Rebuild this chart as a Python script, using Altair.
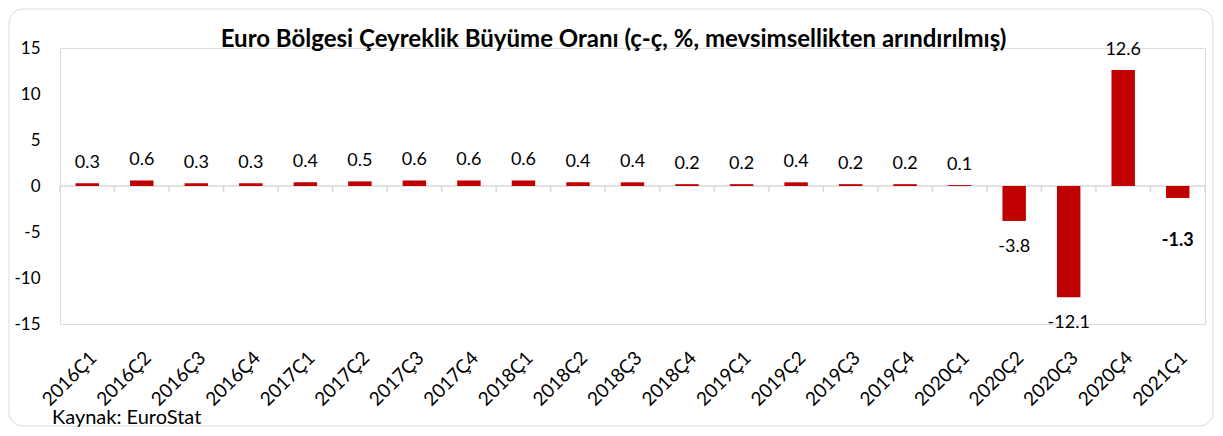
import altair as alt
import pandas as pd

quarters = ["2016Ç1", "2016Ç2", "2016Ç3", "2016Ç4", "2017Ç1", "2017Ç2", "2017Ç3",
            "2017Ç4", "2018Ç1", "2018Ç2", "2018Ç3", "2018Ç4", "2019Ç1", "2019Ç2",
            "2019Ç3", "2019Ç4", "2020Ç1", "2020Ç2", "2020Ç3", "2020Ç4", "2021Ç1"]
growth = [0.3, 0.6, 0.3, 0.3, 0.4, 0.5, 0.6, 0.6, 0.6, 0.4, 0.4, 0.2, 0.2, 0.4,
          0.2, 0.2, 0.1, -3.8, -12.1, 12.6, -1.3]
y_ticks = [-15, -10, -5, 0, 5, 10, 15]
title_text = "Euro Bölgesi Çeyreklik Büyüme Oranı (ç-ç, %, mevsimsellikten arındırılmış)"
source_text = "Kaynak: EuroStat"

FONT = "Lato"
W, H = 1145, 276
BAR = "#C00000"
AXIS_GREY = "#d9d9d9"

df = pd.DataFrame({"q": quarters, "v": growth})
df["label"] = [f"{v:.1f}" for v in growth]
df["last"] = [i == len(quarters) - 1 for i in range(len(quarters))]
df["z"] = 0

xscale = alt.Scale(domain=quarters, paddingInner=0.57, paddingOuter=0.285)
edge_scale = alt.Scale(domain=quarters, paddingInner=0, paddingOuter=0)
yscale = alt.Scale(domain=[-15, 15], nice=False, zero=False)

yaxis = alt.Axis(values=y_ticks, title=None, domain=False, ticks=False, grid=False,
                 labelPadding=20, labelFontSize=17, labelFont=FONT, labelColor="black",
                 labelExpr="'' + datum.value")

base = alt.Chart(df)

zero_line = base.transform_filter("datum.last").mark_rule(
    color=AXIS_GREY, strokeWidth=1.5
).encode(y=alt.Y("z:Q", scale=yscale, axis=yaxis))

edge_ticks = base.mark_rule(color=AXIS_GREY, strokeWidth=1.5, y2Offset=6).encode(
    x=alt.X("q:N", scale=edge_scale, bandPosition=0, axis=None),
    y=alt.Y("z:Q", scale=yscale, axis=yaxis),
    y2="z:Q",
)

end_tick = base.transform_filter("datum.last").mark_rule(
    color=AXIS_GREY, strokeWidth=1.5, y2Offset=6
).encode(
    x=alt.X("q:N", scale=edge_scale, bandPosition=1, axis=None),
    y=alt.Y("z:Q", scale=yscale, axis=yaxis),
    y2="z:Q",
)

bars = base.mark_bar(color=BAR).encode(
    x=alt.X("q:N", scale=xscale,
            axis=alt.Axis(title=None, labelAngle=-45, domain=False, ticks=False, grid=False,
                          labelPadding=24, labelFontSize=19, labelFont=FONT,
                          labelColor="black", orient="bottom")),
    y=alt.Y("v:Q", scale=yscale, axis=yaxis),
)

pos_labels = base.transform_filter("datum.v >= 0").mark_text(
    baseline="alphabetic", dy=-15, fontSize=18, font=FONT, color="black"
).encode(
    x=alt.X("q:N", scale=xscale, axis=None),
    y=alt.Y("v:Q", scale=yscale, axis=yaxis),
    text="label:N",
)

neg_labels = base.transform_filter("datum.v < 0 && !datum.last").mark_text(
    baseline="alphabetic", dy=31, fontSize=18, font=FONT, color="black"
).encode(
    x=alt.X("q:N", scale=xscale, axis=None),
    y=alt.Y("v:Q", scale=yscale, axis=yaxis),
    text="label:N",
)

last_label = base.transform_filter("datum.last").mark_text(
    baseline="alphabetic", dy=48, fontSize=18, font=FONT, fontWeight="bold", color="black"
).encode(
    x=alt.X("q:N", scale=xscale, axis=None),
    y=alt.Y("v:Q", scale=yscale, axis=yaxis),
    text="label:N",
)

title = alt.Chart(pd.DataFrame({"t": [title_text]})).mark_text(
    align="center", baseline="alphabetic", fontSize=24, font=FONT, fontWeight="bold",
    color="black"
).encode(x=alt.value(W / 2 - 19), y=alt.value(-1), text="t:N")

note = alt.Chart(pd.DataFrame({"t": [source_text]})).mark_text(
    align="left", baseline="middle", fontSize=20, font=FONT, color="black"
).encode(x=alt.value(-8), y=alt.value(370), text="t:N")

border = alt.Chart(pd.DataFrame({"k": [0]})).mark_rect(
    fillOpacity=0, stroke=AXIS_GREY, strokeWidth=1, cornerRadius=14
).encode(x=alt.value(-51), x2=alt.value(W + 8), y=alt.value(-39), y2=alt.value(H + 102))

chart = alt.layer(
    border, zero_line, edge_ticks, end_tick, bars, pos_labels, neg_labels, last_label,
    title, note
).resolve_scale(x="independent").properties(
    width=W, height=H,
    autosize=alt.AutoSizeParams(type="none"),
    padding={"left": 52, "top": 40, "right": 10, "bottom": 104},
).configure_view(
    stroke="red", strokeWidth=3
).configure_axis(
    domain=False, grid=False
).configure(background="white")

chart.save("out.html", embed_options={"renderer": "svg", "actions": False})
